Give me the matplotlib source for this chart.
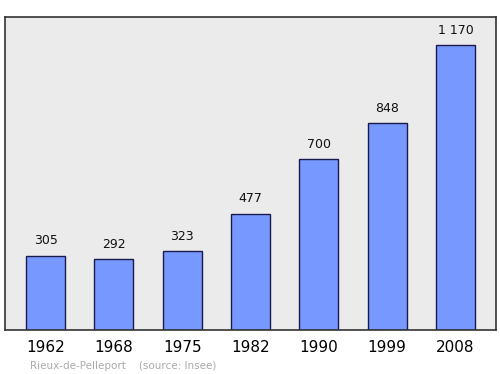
import matplotlib
matplotlib.use("Agg")
import matplotlib.pyplot as plt

years = ["1962", "1968", "1975", "1982", "1990", "1999", "2008"]
population = [305, 292, 323, 477, 700, 848, 1170]
value_labels = ["305", "292", "323", "477", "700", "848", "1 170"]

fig = plt.figure(figsize=(5, 3.74), dpi=100)
ax = fig.add_axes([0.01, 0.1176, 0.982, 0.837])
ax.set_facecolor("#ebebeb")

pos = list(range(len(years)))
ax.bar(pos, population, width=0.57, color="#7799ff", edgecolor="#1a1a4d", linewidth=1)

for x, v, lab in zip(pos, population, value_labels):
    ax.annotate(lab, (x, v), xytext=(0, 6), textcoords="offset points",
                ha="center", va="bottom", fontsize=9, color="#111111")

ax.set_xlim(-0.593, 6.593)
ax.set_ylim(0, 1285)
ax.set_yticks([])
ax.set_xticks(pos)
ax.set_xticklabels(years, fontsize=11)
ax.tick_params(axis="x", length=0, pad=7)
for s in ax.spines.values():
    s.set_color("#333333")
    s.set_linewidth(1.2)

fig.text(0.06, 0.014, "Rieux-de-Pelleport    (source: Insee)", fontsize=7.5, color="#aaaaaa")

fig.savefig("out.png", dpi=100)
